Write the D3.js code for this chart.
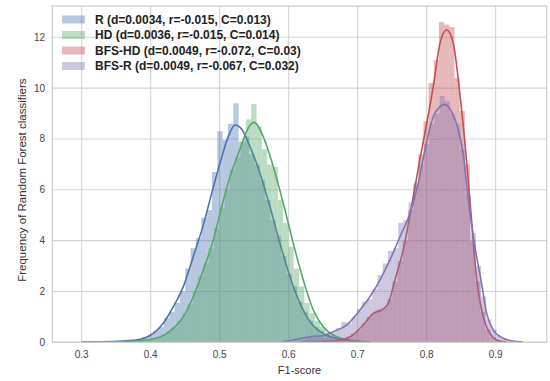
<!DOCTYPE html>
<html>
<head>
<meta charset="utf-8">
<script src="https://cdn.jsdelivr.net/npm/d3@7"></script>
<style>
  body { margin: 0; background: #fff; }
  svg { display: block; }
  text { font-family: "Liberation Sans", Arial, Helvetica, sans-serif; }
</style>
</head>
<body>
<svg id="chart" width="550" height="381"></svg>
<script>
// Series names shown in the legend
const seriesNames = [
  "R (d=0.0034, r=-0.015, C=0.013)",
  "HD (d=0.0036, r=-0.015, C=0.014)",
  "BFS-HD (d=0.0049, r=-0.072, C=0.03)",
  "BFS-R (d=0.0049, r=-0.067, C=0.032)"
];
const seriesColors = ["#4C72B0", "#55A868", "#C44E52", "#8172B2"];

// Histogram bins: first edge, bin width, normalised heights
const binStartR = 0.3187, binWidthR = 0.00773;
const histR = [0.02, 0.0, 0.03, 0.03, 0.05, 0.06, 0.05, 0.09, 0.12, 0.2,
  0.3, 0.45, 0.6, 0.96, 1.2, 1.55, 2.0, 2.9, 3.7, 4.1,
  4.9, 5.2, 6.7, 8.3, 7.96, 8.6, 9.4, 7.9, 8.1, 7.4,
  7.0, 6.4, 5.6, 4.8, 4.2, 3.4, 2.7, 2.2, 1.6, 1.2,
  0.85, 0.6, 0.45, 0.3, 0.2, 0.12, 0.06];

const binStartHD = 0.3147, binWidthHD = 0.0077;
const histHD = [0.02, 0.02, 0.03, 0.02, 0.03, 0.04, 0.04, 0.05, 0.06, 0.08,
  0.1, 0.14, 0.2, 0.3, 0.42, 0.6, 0.85, 1.15, 1.5, 2.0,
  2.6, 3.1, 3.7, 4.5, 5.3, 6.0, 6.8, 7.3, 7.9, 8.77,
  9.37, 8.5, 7.6, 7.0, 6.9, 5.6, 4.7, 3.76, 2.9, 2.2,
  1.55, 1.15, 0.85, 0.6, 0.4, 0.28, 0.18, 0.12, 0.08, 0.04];

const binStartBFSHD = 0.6228, binWidthBFSHD = 0.0075;
const histBFSHD = [0.02, 0.03, 0.03, 0.04, 0.05, 0.06, 0.1, 0.15, 0.22, 0.35,
  0.5, 0.75, 1.0, 1.15, 1.3, 1.35, 1.7, 2.4, 3.2, 4.0,
  5.2, 6.2, 7.4, 8.7, 10.2, 11.1, 12.6, 12.5, 12.4, 10.4,
  9.1, 7.0, 4.0, 2.4, 1.2, 0.5, 0.2, 0.08, 0.03, 0.01];

const binStartBFSR = 0.6013, binWidthBFSR = 0.0075;
const histBFSR = [0.05, 0.08, 0.12, 0.18, 0.22, 0.25, 0.2, 0.3, 0.4, 0.55,
  0.8, 0.75, 1.0, 1.3, 1.6, 1.7, 2.1, 2.65, 3.1, 3.6,
  3.7, 4.7, 4.8, 5.5, 6.3, 7.0, 7.8, 8.6, 9.0, 9.69,
  9.5, 9.0, 8.6, 7.6, 5.8, 4.3, 3.0, 1.8, 0.9, 0.5,
  0.25, 0.15, 0.08, 0.04];

// Kernel density estimates: [F1-score, density]
const kdeR = [[0.30,0.01],[0.32,0.02],[0.34,0.03],[0.36,0.05],[0.3847,0.12],[0.4038,0.35],
  [0.4183,0.75],[0.4328,1.40],[0.4473,2.19],[0.4617,3.37],[0.4762,4.61],[0.4884,5.86],
  [0.5004,7.04],[0.5125,8.09],[0.5222,8.55],[0.532,8.38],[0.5439,7.7],[0.5584,6.65],
  [0.5729,5.33],[0.5874,3.89],[0.6019,2.58],[0.6164,1.53],[0.6309,0.81],[0.650,0.35],
  [0.674,0.12],[0.70,0.03],[0.72,0.01]];
const kdeHD = [[0.30,0.01],[0.33,0.02],[0.36,0.03],[0.3845,0.06],[0.4145,0.22],[0.4328,0.55],
  [0.4473,1.0],[0.4617,1.79],[0.4762,2.84],[0.4907,4.02],[0.5029,5.33],[0.515,6.51],
  [0.5294,7.6],[0.539,8.3],[0.5497,8.65],[0.5632,8.09],[0.5777,6.91],[0.5922,5.47],
  [0.6067,3.89],[0.6212,2.45],[0.6357,1.27],[0.650,0.61],[0.6696,0.22],[0.689,0.09],[0.71,0.02]];
const kdeBFSHD = [[0.62,0.02],[0.64,0.03],[0.664,0.05],[0.689,0.22],[0.708,0.68],[0.7226,1.14],
  [0.7348,1.27],[0.7444,1.53],[0.754,2.45],[0.766,3.63],[0.778,5.33],[0.790,7.17],
  [0.8,8.6],[0.8096,10.06],[0.8193,11.76],[0.829,12.29],[0.8386,11.76],[0.848,9.8],
  [0.857,7.4],[0.8645,5.0],[0.872,2.6],[0.882,1.0],[0.8917,0.35],[0.9014,0.09],[0.915,0.01]];
const kdeBFSR = [[0.59,0.02],[0.605,0.08],[0.62,0.17],[0.635,0.24],[0.648,0.25],[0.6646,0.42],
  [0.684,0.68],[0.7033,1.27],[0.718,1.8],[0.7323,2.45],[0.7468,3.24],[0.7613,4.15],
  [0.7757,5.07],[0.7878,6.25],[0.7975,7.57],[0.8096,8.87],[0.8193,9.27],[0.8265,9.36],
  [0.836,9.07],[0.846,8.35],[0.853,7.4],[0.8603,5.6],[0.870,3.76],[0.8797,2.3],
  [0.887,1.14],[0.8966,0.48],[0.911,0.16],[0.9256,0.05],[0.94,0.01]];

const xTicks = [0.3, 0.4, 0.5, 0.6, 0.7, 0.8, 0.9];
const yTicks = [0, 2, 4, 6, 8, 10, 12];
const xTitle = "F1-score";
const yTitle = "Frequency of Random Forest classifiers";

const series = [
  { start: binStartR, width: binWidthR, hist: histR, kde: kdeR },
  { start: binStartHD, width: binWidthHD, hist: histHD, kde: kdeHD },
  { start: binStartBFSHD, width: binWidthBFSHD, hist: histBFSHD, kde: kdeBFSHD },
  { start: binStartBFSR, width: binWidthBFSR, hist: histBFSR, kde: kdeBFSR }
].map((s, i) => ({ ...s, name: seriesNames[i], color: seriesColors[i] }));

const svg = d3.select("#chart");
const plot = { left: 52.3, right: 546.7, top: 6, bottom: 342.3 };

const x = d3.scaleLinear().domain([0.2574, 0.974]).range([plot.left, plot.right]);
const y = d3.scaleLinear().domain([0, 13.23]).range([plot.bottom, plot.top]);

svg.append("rect").attr("width", 550).attr("height", 381).attr("fill", "#fff");

// grid
const grid = svg.append("g").attr("stroke", "#d3d3d3").attr("stroke-width", 1.1);
grid.selectAll("line.v").data(xTicks).join("line")
  .attr("x1", d => x(d)).attr("x2", d => x(d))
  .attr("y1", plot.top).attr("y2", plot.bottom);
grid.selectAll("line.h").data(yTicks).join("line")
  .attr("x1", plot.left).attr("x2", plot.right)
  .attr("y1", d => y(d)).attr("y2", d => y(d));

svg.append("clipPath").attr("id", "clip")
  .append("rect").attr("x", plot.left).attr("y", plot.top)
  .attr("width", plot.right - plot.left).attr("height", plot.bottom - plot.top);

const layer = svg.append("g").attr("clip-path", "url(#clip)");
const line = d3.line().x(d => x(d[0])).y(d => y(d[1])).curve(d3.curveMonotoneX);

series.forEach(s => {
  const g = layer.append("g");
  g.selectAll("rect").data(s.hist).join("rect")
    .attr("x", (d, i) => x(s.start + i * s.width))
    .attr("width", (d, i) => x(s.start + (i + 1) * s.width) - x(s.start + i * s.width))
    .attr("y", d => y(d))
    .attr("height", d => y(0) - y(d))
    .attr("fill", s.color)
    .attr("fill-opacity", 0.4);
  g.append("path").datum(s.kde)
    .attr("d", line)
    .attr("fill", "none")
    .attr("stroke", s.color)
    .attr("stroke-width", 1.6);
});

// frame
svg.append("rect")
  .attr("x", plot.left).attr("y", plot.top)
  .attr("width", plot.right - plot.left).attr("height", plot.bottom - plot.top)
  .attr("fill", "none").attr("stroke", "#cccccc").attr("stroke-width", 1.2);

// tick labels
svg.append("g").selectAll("text").data(xTicks).join("text")
  .attr("x", d => x(d)).attr("y", 358)
  .attr("text-anchor", "middle")
  .attr("font-size", 10).attr("fill", "#444")
  .text(d3.format(".1f"));
svg.append("g").selectAll("text").data(yTicks).join("text")
  .attr("x", 45).attr("y", d => y(d) + 3.5)
  .attr("text-anchor", "end")
  .attr("font-size", 10).attr("fill", "#444")
  .text(d => d);

// axis titles
svg.append("text")
  .attr("x", (plot.left + plot.right) / 2).attr("y", 374)
  .attr("text-anchor", "middle").attr("font-size", 11).attr("fill", "#333")
  .text(xTitle);
svg.append("text")
  .attr("transform", `translate(26,${(plot.top + plot.bottom) / 2 + 6}) rotate(-90)`)
  .attr("text-anchor", "middle").attr("font-size", 11.5).attr("fill", "#333")
  .text(yTitle);

// legend
const legend = svg.append("g").attr("transform", "translate(62,19.5)");
const rows = legend.selectAll("g").data(series).join("g")
  .attr("transform", (d, i) => `translate(0,${i * 15.5})`);
rows.append("rect")
  .attr("x", 0).attr("y", -4).attr("width", 23).attr("height", 8)
  .attr("fill", d => d.color).attr("fill-opacity", 0.4);
rows.append("text")
  .attr("x", 33).attr("y", 4.3)
  .attr("font-size", 12).attr("font-weight", "bold").attr("fill", "#222")
  .text(d => d.name);
</script>
</body>
</html>
